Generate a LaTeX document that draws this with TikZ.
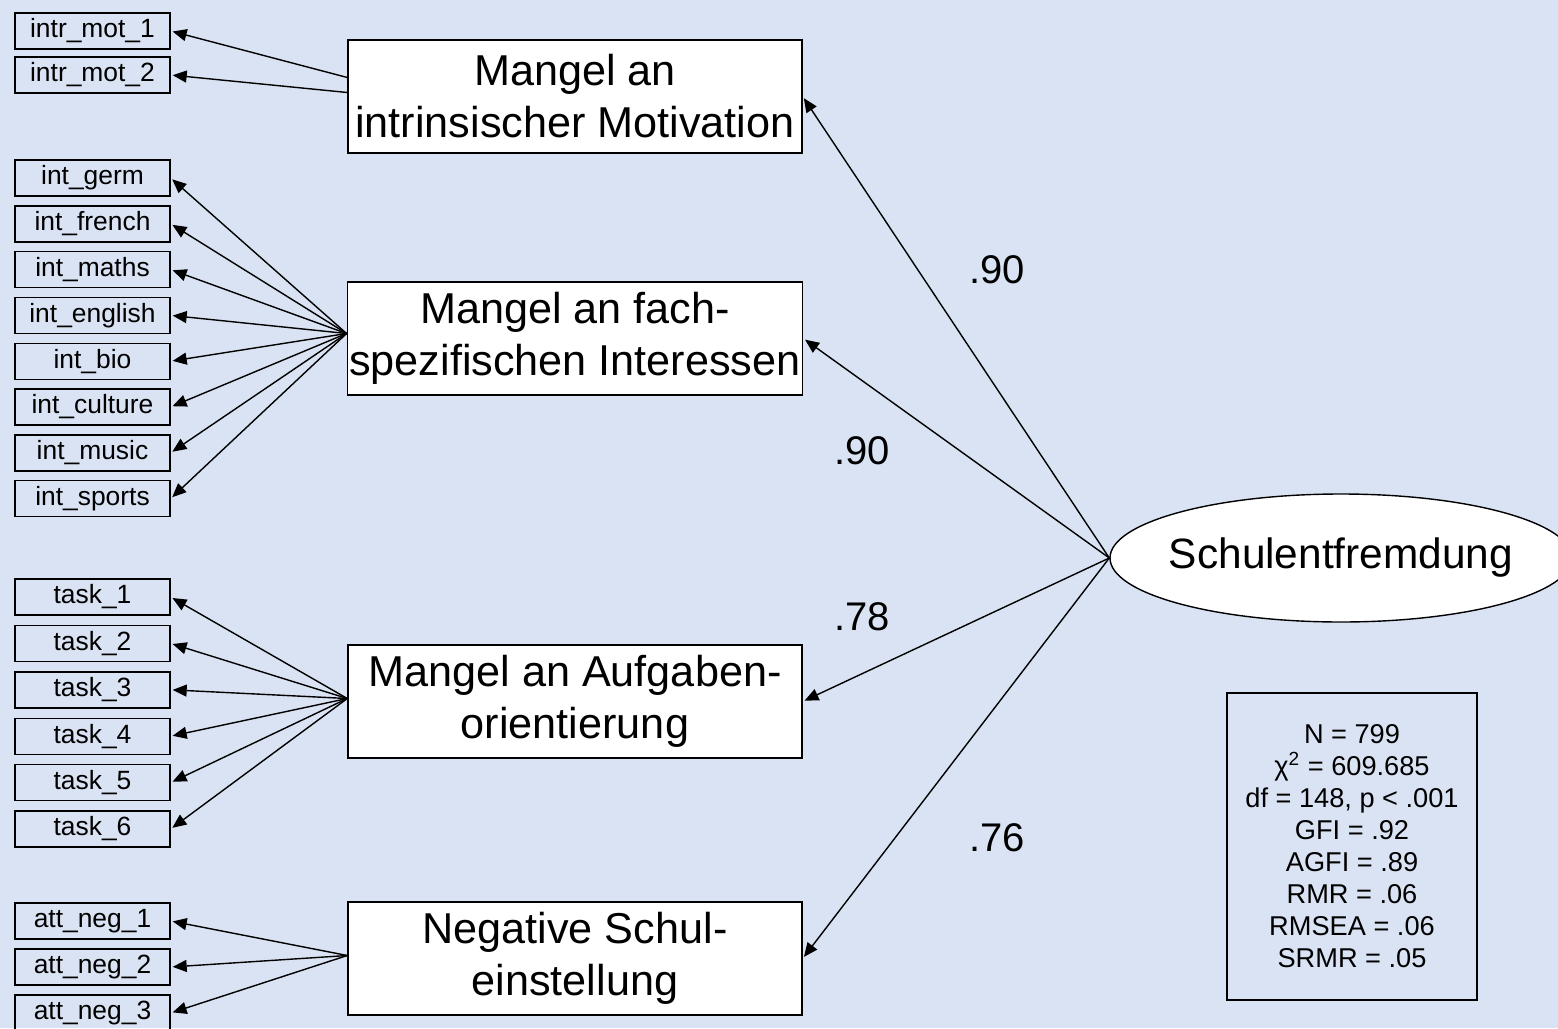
\documentclass[tikz,border=0pt]{standalone}
\usepackage{fontspec}
\setmainfont{Liberation Sans}
\usetikzlibrary{arrows.meta,positioning,shapes.geometric}
\definecolor{bgblue}{RGB}{218,227,243}

\begin{document}
\begin{tikzpicture}[x=0.5pt,y=-0.5pt,->,>={Triangle[length=7pt,width=6pt]},shorten >=1pt,
    line width=0.7pt,node distance=4.2pt,
    ind/.style={draw,minimum width=77.5pt,minimum height=18pt,inner sep=0pt,
      font=\fontsize{13.2}{15}\selectfont},
    lat/.style={draw,fill=white,minimum width=227pt,minimum height=56.5pt,inner sep=1pt,
      align=center,font=\fontsize{21.6}{26}\selectfont},
    load/.style={font=\fontsize{20}{24}\selectfont}]
  \clip (0,0) rectangle (1558,1028);
  \fill[bgblue] (0,0) rectangle (1558,1028);

  % latente Variablen
  \node[lat] (lat1) at (575,96.5)  {Mangel an\\intrinsischer Motivation};
  \node[lat] (lat2) at (575,338.5) {Mangel an fach-\\spezifischen Interessen};
  \node[lat] (lat3) at (575,701.5) {Mangel an Aufgaben-\\orientierung};
  \node[lat] (lat4) at (575,958.5) {Negative Schul-\\einstellung};
  \node[ellipse,draw,fill=white,minimum width=231pt,minimum height=64pt,inner sep=0pt,
    font=\fontsize{21.2}{25}\selectfont] (schul) at (1341,558)
    {\makebox[140pt]{Schulentfremdung}};

  % Indikatoren
  \node[ind] (m1) at (92.5,31) {intr\_mot\_1};
  \node[ind] (m2) [below=3.3pt of m1] {intr\_mot\_2};

  \node[ind] (g1) at (92.5,178) {int\_germ};
  \node[ind] (g2) [below=of g1] {int\_french};
  \node[ind] (g3) [below=of g2] {int\_maths};
  \node[ind] (g4) [below=of g3] {int\_english};
  \node[ind] (g5) [below=of g4] {int\_bio};
  \node[ind] (g6) [below=of g5] {int\_culture};
  \node[ind] (g7) [below=of g6] {int\_music};
  \node[ind] (g8) [below=of g7] {int\_sports};

  \node[ind] (t1) at (92.5,597) {task\_1};
  \node[ind] (t2) [below=4.5pt of t1] {task\_2};
  \node[ind] (t3) [below=4.5pt of t2] {task\_3};
  \node[ind] (t4) [below=4.5pt of t3] {task\_4};
  \node[ind] (t5) [below=4.5pt of t4] {task\_5};
  \node[ind] (t6) [below=4.5pt of t5] {task\_6};

  \node[ind] (a1) at (92.5,921) {att\_neg\_1};
  \node[ind] (a2) [below=4.3pt of a1] {att\_neg\_2};
  \node[ind] (a3) [below=4.3pt of a2] {att\_neg\_3};

  % Ladungen
  \node[load] (l1) at (997,270) {.90};
  \node[load] (l2) at (862,451) {.90};
  \node[load] (l3) at (862,617) {.78};
  \node[load] (l4) at (997,838) {.76};

  % Fit-Indizes
  \node[draw,minimum width=125pt,minimum height=153.5pt,align=center,
    font=\fontsize{13.6}{16}\selectfont] (fit) at (1352,846.5)
    {N = 799\\χ\textsuperscript{2} = 609.685\\df = 148, p < .001\\GFI = .92\\
     AGFI = .89\\RMR = .06\\RMSEA = .06\\SRMR = .05};

  \path (schul.west) edge (lat1.east)
    (schul.west) edge (lat2.east)
    (schul.west) edge (lat3.east)
    (schul.west) edge (lat4.east);
  \path ([yshift=9.5pt]lat1.west) edge (m1.east)
    ([yshift=2pt]lat1.west) edge (m2.east);
  \path ([yshift=2.5pt]lat2.west) edge (g1.east)
    ([yshift=2.5pt]lat2.west) edge (g2.east)
    ([yshift=2.5pt]lat2.west) edge (g3.east)
    ([yshift=2.5pt]lat2.west) edge (g4.east)
    ([yshift=2.5pt]lat2.west) edge (g5.east)
    ([yshift=2.5pt]lat2.west) edge (g6.east)
    ([yshift=2.5pt]lat2.west) edge (g7.east)
    ([yshift=2.5pt]lat2.west) edge (g8.east);
  \path ([yshift=1.5pt]lat3.west) edge (t1.east)
    ([yshift=1.5pt]lat3.west) edge (t2.east)
    ([yshift=1.5pt]lat3.west) edge (t3.east)
    ([yshift=1.5pt]lat3.west) edge (t4.east)
    ([yshift=1.5pt]lat3.west) edge (t5.east)
    ([yshift=1.5pt]lat3.west) edge (t6.east);
  \path ([yshift=1.5pt]lat4.west) edge (a1.east)
    ([yshift=1.5pt]lat4.west) edge (a2.east)
    ([yshift=1.5pt]lat4.west) edge (a3.east);
\end{tikzpicture}
\end{document}
